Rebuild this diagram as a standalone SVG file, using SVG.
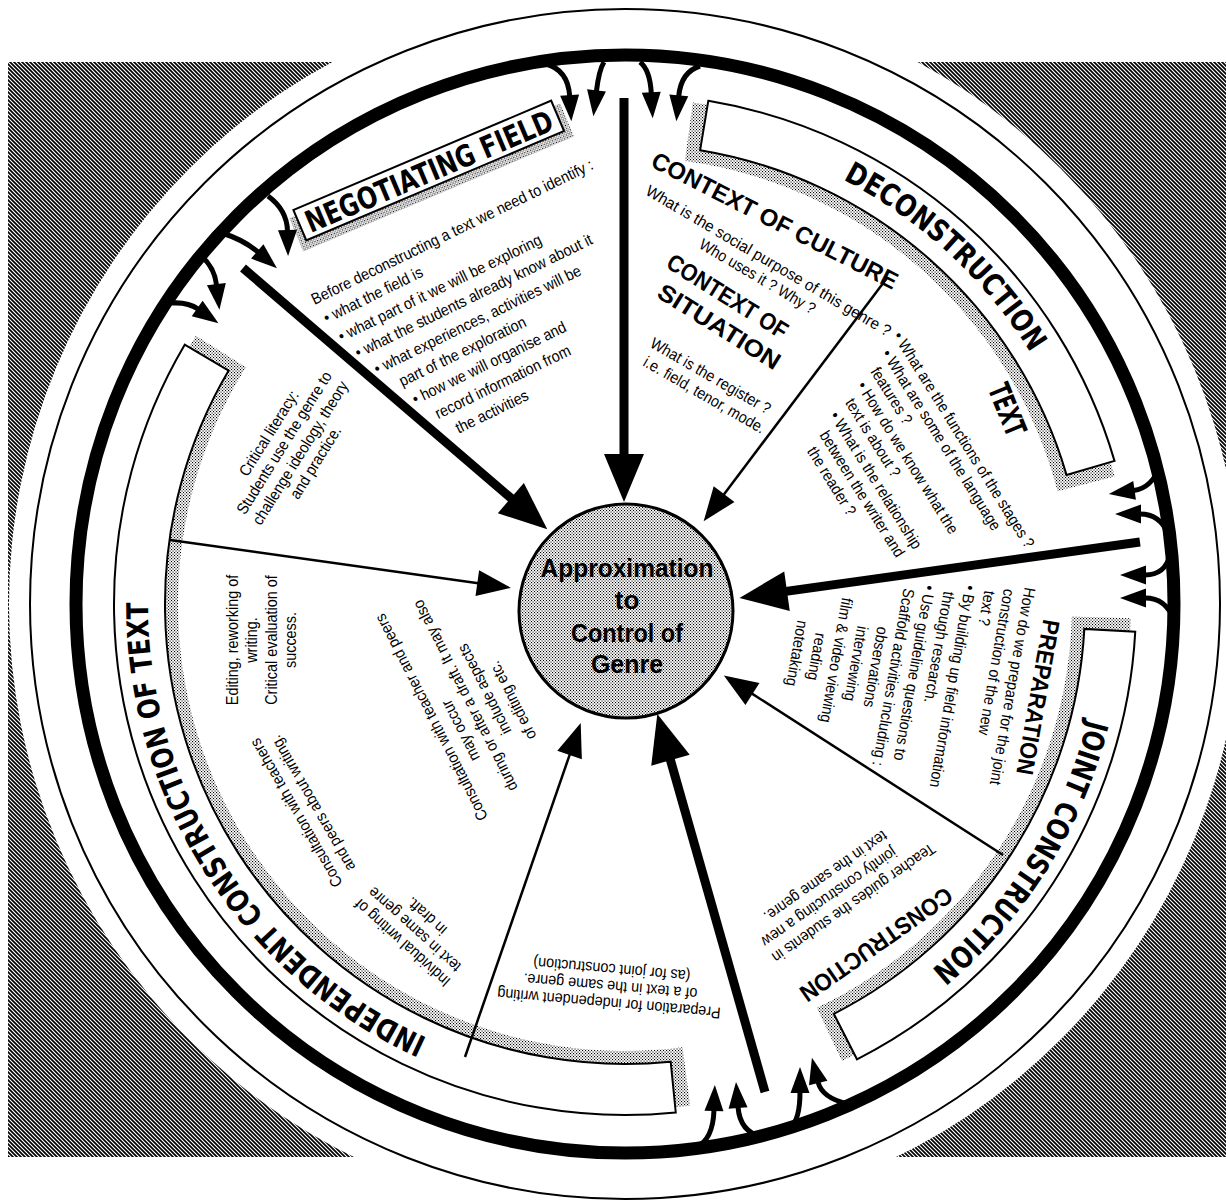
<svg xmlns="http://www.w3.org/2000/svg" width="1226" height="1200" viewBox="0 0 1226 1200">
<defs>
<pattern id="hatch" width="4" height="4" patternUnits="userSpaceOnUse"><rect width="4" height="4" fill="#fff"/><path d="M-1,-1 L5,5 M-1,3 L1,5 M3,-1 L5,1" stroke="#000" stroke-width="1.7"/></pattern>
<pattern id="dots" width="3" height="3" patternUnits="userSpaceOnUse"><rect width="3" height="3" fill="#fff"/><rect width="1.1" height="1.1" fill="#000"/><rect x="1.5" y="1.5" width="1.1" height="1.1" fill="#000"/></pattern>
<marker id="headL" markerUnits="userSpaceOnUse" orient="auto" refX="1" refY="0" markerWidth="60" markerHeight="50" overflow="visible"><path d="M0,-20 L48,0 L0,20 Z" fill="#000"/></marker>
<marker id="headM" markerUnits="userSpaceOnUse" orient="auto" refX="1" refY="0" markerWidth="40" markerHeight="30" overflow="visible"><path d="M0,-13 L34,0 L0,13 Z" fill="#000"/></marker>
<marker id="headS" markerUnits="userSpaceOnUse" orient="auto" refX="1" refY="0" markerWidth="30" markerHeight="20" overflow="visible"><path d="M0,-9.5 L26,0 L0,9.5 Z" fill="#000"/></marker>
<path id="arcDecon" d="M843.01,179.75 A477,477 0 0 1 1046.17,380.06"/>
<path id="arcJoint" d="M1087.83,719.4 A477,477 0 0 1 898.6,994.73"/>
<path id="arcIndep" d="M427.19,1038.05 A477,477 0 0 1 148.65,579.03"/>
</defs>
<style>
.body{font-family:"Liberation Sans",Arial,sans-serif;font-size:16px;fill:#000}
.sub{font-family:"Liberation Sans",Arial,sans-serif;font-weight:bold;font-size:24px;fill:#000}
.stage{font-family:"DejaVu Sans","Liberation Sans",sans-serif;font-weight:bold;font-size:30px;fill:#000}
.ctr{font-family:"Liberation Sans",Arial,sans-serif;font-weight:bold;font-size:26px;fill:#000;text-anchor:middle}
.mid{text-anchor:middle}
.thin{fill:none;stroke:#000;stroke-width:2}
.box{fill:#fff;stroke:#000;stroke-width:2}
.shadow{fill:url(#dots);stroke:none}
.big{fill:none;stroke:#000;stroke-width:9}
.sm{fill:none;stroke:#000;stroke-width:2.5}
.br{fill:none;stroke:#000;stroke-width:5}
</style>
<rect width="1226" height="1200" fill="#fff"/>
<g id="background">
<rect x="8" y="62" width="1218" height="1095" fill="url(#hatch)"/>
<circle cx="625" cy="604" r="616" fill="#fff"/>
<circle cx="625" cy="604" r="595" class="thin"/>
<circle cx="625" cy="604" r="549" fill="none" stroke="#000" stroke-width="13"/>
</g>
<g id="stage-deconstruction">
<path class="shadow" d="M692.8,102.56 A506,506 0 0 1 1114.66,476.45 L1057.57,491.32 A447,447 0 0 0 684.89,161.03 Z"/>
<path class="box" d="M708.3,100.85 A510,510 0 0 1 1114.5,460.86 L1066.5,474.89 A460,460 0 0 0 700.13,150.18 Z"/>
<text class="stage"><textPath href="#arcDecon" textLength="258" lengthAdjust="spacingAndGlyphs">DECONSTRUCTION</textPath></text>
</g>
<g id="stage-joint">
<path class="shadow" d="M1130.8,618.13 A506,506 0 0 1 842.04,1061.09 L816.74,1007.79 A447,447 0 0 0 1071.83,616.48 Z"/>
<path class="box" d="M1135.25,631.63 A511,511 0 0 1 856.99,1059.31 L833.84,1013.86 A460,460 0 0 0 1084.33,628.88 Z"/>
<text class="stage"><textPath href="#arcJoint" textLength="300" lengthAdjust="spacingAndGlyphs">JOINT CONSTRUCTION</textPath></text>
</g>
<g id="stage-independent">
<path class="shadow" d="M690.17,1105.79 A506,506 0 0 1 195.89,335.86 L245.92,367.13 A447,447 0 0 0 682.57,1047.28 Z"/>
<path class="box" d="M675.75,1112.48 A511,511 0 0 1 184.71,344.65 L228.65,370.53 A460,460 0 0 0 670.69,1061.73 Z"/>
<text class="stage"><textPath href="#arcIndep" textLength="547" lengthAdjust="spacingAndGlyphs">INDEPENDENT CONSTRUCTION OF TEXT</textPath></text>
</g>
<g id="stage-negotiating" transform="rotate(-23)">
<rect class="shadow" x="181" y="314" width="294" height="36"/>
<rect class="box" x="188" y="308" width="280" height="33"/>
<text class="stage" x="195" y="336" font-size="29" textLength="266" lengthAdjust="spacingAndGlyphs">NEGOTIATING FIELD</text>
</g>
<g id="connectors">
<line class="big" x1="243" y1="268" x2="511.6" y2="498.7" marker-end="url(#headL)"/>
<line class="big" x1="624" y1="98" x2="624" y2="455" marker-end="url(#headL)"/>
<line class="big" x1="1140" y1="542" x2="786" y2="591.4" marker-end="url(#headL)"/>
<line class="big" x1="765" y1="1092" x2="670.2" y2="759.2" marker-end="url(#headL)"/>
<line class="sm" x1="887" y1="278" x2="723.5" y2="494.9" marker-end="url(#headM)"/>
<line class="sm" x1="1003" y1="855" x2="751.6" y2="693.4" marker-end="url(#headM)"/>
<line class="sm" x1="465" y1="1057" x2="569.9" y2="754.1" marker-end="url(#headM)"/>
<line class="sm" x1="170" y1="540" x2="478.3" y2="583.3" marker-end="url(#headM)"/>
<path class="br" d="M546,64 Q568,70 569.7,96.2" marker-end="url(#headS)"/>
<path class="br" d="M604,62 Q599,70 596.4,91.4" marker-end="url(#headS)"/>
<path class="br" d="M640,62 Q650,70 651.3,93.3" marker-end="url(#headS)"/>
<path class="br" d="M700,66 Q681,72 678.7,96.3" marker-end="url(#headS)"/>
<path class="br" d="M1160,466 Q1152,488 1133.6,490.6" marker-end="url(#headS)"/>
<path class="br" d="M1168,534 Q1160,514 1140,514" marker-end="url(#headS)"/>
<path class="br" d="M1170,555 Q1165,575 1145,575" marker-end="url(#headS)"/>
<path class="br" d="M1174,620 Q1166,598 1145,598" marker-end="url(#headS)"/>
<path class="br" d="M696,1147 Q713,1140 714,1110" marker-end="url(#headS)"/>
<path class="br" d="M762,1137 Q740,1132 738,1107" marker-end="url(#headS)"/>
<path class="br" d="M790,1128 Q800,1120 800,1092" marker-end="url(#headS)"/>
<path class="br" d="M848,1104 Q822,1098 818,1082" marker-end="url(#headS)"/>
<path class="br" d="M268,196 Q287,210 287.5,231" marker-end="url(#headS)"/>
<path class="br" d="M222,233 Q244,240 258,252" marker-end="url(#headS)"/>
<path class="br" d="M196,252 Q214,264 216.5,285" marker-end="url(#headS)"/>
<path class="br" d="M172,303 Q188,302 198,309" marker-end="url(#headS)"/>
</g>
<g id="center-node">
<circle cx="626" cy="611" r="107" fill="url(#dots)" stroke="#000" stroke-width="3"/>
<text class="ctr" x="627" y="577" textLength="173" lengthAdjust="spacingAndGlyphs">Approximation</text>
<text class="ctr" x="627" y="609">to</text>
<text class="ctr" x="627" y="642" textLength="112" lengthAdjust="spacingAndGlyphs">Control of</text>
<text class="ctr" x="627" y="673" textLength="72" lengthAdjust="spacingAndGlyphs">Genre</text>
</g>
<g id="negotiating-text" transform="rotate(-26)"><g transform="scale(0.9,1)">
<text class="body" x="165.6" y="412">Before deconstructing a text we need to identify :</text>
<text class="body" x="168.9" y="434">• what the field is</text>
<text class="body" x="174.4" y="457">• what part of it we will be exploring</text>
<text class="body" x="183.3" y="479">• what the students already know about it</text>
<text class="body" x="194.4" y="502">• what experiences, activities will be</text>
<text class="body" x="213.3" y="524">part of the exploration</text>
<text class="body" x="217.8" y="546">• how we will organise and</text>
<text class="body" x="233.3" y="569">record information from</text>
<text class="body" x="246.7" y="591">the activities</text>
</g></g>
<g id="context-culture">
<g transform="rotate(27)"><text class="sub" x="654" y="-147" font-size="26" textLength="273" lengthAdjust="spacingAndGlyphs">CONTEXT OF CULTURE</text></g>
<g transform="rotate(30.5) scale(0.9,1)">
<text class="body" x="726.3" y="-160" textLength="313" lengthAdjust="spacingAndGlyphs">What is the social purpose of this genre ?</text>
<text class="body" x="807.8" y="-141">Who uses it ?  Why ?</text>
</g>
</g>
<g id="context-situation">
<g transform="rotate(32)">
<text class="sub" x="705" y="-126" font-size="25" textLength="138" lengthAdjust="spacingAndGlyphs">CONTEXT OF</text>
<text class="sub" x="713" y="-96" font-size="25" textLength="140" lengthAdjust="spacingAndGlyphs">SITUATION</text>
</g>
<g transform="rotate(30) scale(0.9,1)">
<text class="body" x="817.1" y="-24.5">What is the register ?</text>
<text class="body" x="820.7" y="-4.8">i.e. field, tenor, mode.</text>
</g>
</g>
<g id="text-sector">
<g transform="rotate(68)"><text class="stage mid" x="757" y="-770" font-size="26" textLength="54" lengthAdjust="spacingAndGlyphs">TEXT</text></g>
<g transform="rotate(58) scale(0.9,1)">
<text class="body" x="842.2" y="-579">• What are the functions of the stages ?</text>
<text class="body" x="852.2" y="-560">• What are some of the language</text>
<text class="body" x="862.2" y="-541">features ?</text>
<text class="body" x="867.8" y="-522">• How do we know what the</text>
<text class="body" x="876.7" y="-503">text is about ?</text>
<text class="body" x="880" y="-483">• What is the relationship</text>
<text class="body" x="892.2" y="-464">between the writer and</text>
<text class="body" x="900" y="-445">the reader ?</text>
</g>
</g>
<g id="preparation">
<g transform="rotate(100)"><text class="sub" x="428" y="-1135" textLength="157" lengthAdjust="spacingAndGlyphs">PREPARATION</text></g>
<g transform="rotate(100) scale(0.9,1)">
<text class="body" x="444.4" y="-1111">How do we prepare for the joint</text>
<text class="body" x="450" y="-1091">construction of the new</text>
<text class="body" x="455.6" y="-1072">text ?</text>
<text class="body" x="453.3" y="-1052">• By building up field information</text>
<text class="body" x="464.4" y="-1032">through research.</text>
<text class="body" x="461.1" y="-1012">• Use guideline questions to</text>
<text class="body" x="468.9" y="-992">Scaffold activities including :</text>
<text class="body mid" x="561.1" y="-973">observations</text>
<text class="body mid" x="561.1" y="-953">interviewing</text>
<text class="body mid" x="561.1" y="-933">film &amp; video viewing</text>
<text class="body mid" x="561.1" y="-913">reading</text>
<text class="body mid" x="561.1" y="-893">notetaking</text>
</g>
</g>
<g id="construction">
<g transform="rotate(145)"><text class="sub" x="-266" y="-1268" textLength="180" lengthAdjust="spacingAndGlyphs">CONSTRUCTION</text></g>
<g transform="rotate(145) scale(0.9,1)">
<text class="body" x="-310" y="-1224">Teacher guides the students in</text>
<text class="body" x="-272.2" y="-1205">jointly constructing a new</text>
<text class="body" x="-274.4" y="-1186">text in the same genre.</text>
</g>
</g>
<g id="prep-independent" transform="rotate(185) scale(0.9,1)">
<text class="body mid" x="-771.1" y="-941">Preparation for independent writing</text>
<text class="body mid" x="-771.1" y="-924">of a text in the same genre.</text>
<text class="body mid" x="-771.1" y="-907">(as for joint construction)</text>
</g>
<g id="consultation-draft" transform="rotate(243) scale(0.9,1)">
<text class="body mid" x="-927.8" y="64">Consultation with teacher and peers</text>
<text class="body mid" x="-955.6" y="84">may occur</text>
<text class="body mid" x="-923.3" y="104">during or after a draft. It may also</text>
<text class="body mid" x="-926.7" y="124">include aspects</text>
<text class="body mid" x="-952.2" y="144">of editing etc.</text>
</g>
<g id="editing" transform="rotate(-90) scale(0.9,1)">
<text class="body mid" x="-711.1" y="238">Editing, reworking of</text>
<text class="body mid" x="-711.1" y="257.5">writing.</text>
<text class="body mid" x="-711.1" y="277">Critical evaluation of</text>
<text class="body mid" x="-711.1" y="296.5">success.</text>
</g>
<g id="consultation-teachers" transform="rotate(240) scale(0.9,1)">
<text class="body mid" x="-946.7" y="-144.5">Consultation with teachers</text>
<text class="body mid" x="-946.7" y="-125.5">and peers about writing.</text>
</g>
<g id="individual" transform="rotate(222) scale(0.9,1)">
<text class="body mid" x="-1033.3" y="-426">Individual writing of</text>
<text class="body mid" x="-1033.3" y="-408">text in same genre</text>
<text class="body mid" x="-1033.3" y="-390">in draft.</text>
</g>
<g id="critical-literacy" transform="rotate(-58) scale(0.9,1)">
<text class="body mid" x="-250" y="463">Critical literacy:</text>
<text class="body mid" x="-250" y="481">Students use the genre to</text>
<text class="body mid" x="-250" y="500">challenge ideology, theory</text>
<text class="body mid" x="-250" y="518">and practice.</text>
</g>
</svg>
